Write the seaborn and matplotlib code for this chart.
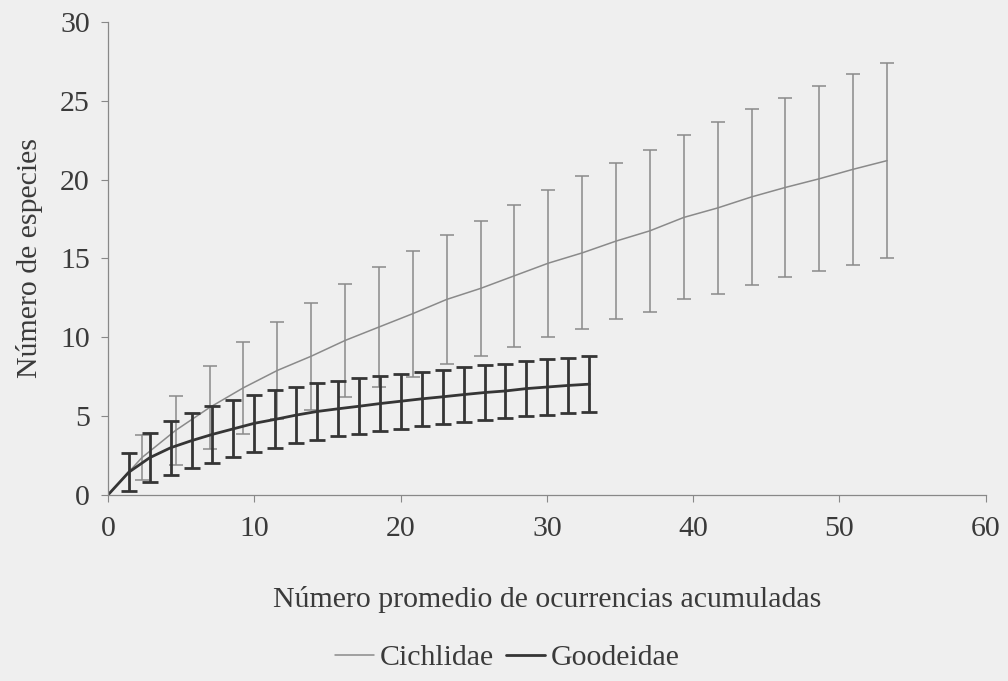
import numpy as np
import pandas as pd
import matplotlib
matplotlib.use("Agg")
import matplotlib.pyplot as plt
import seaborn as sns

# Rarefaction curves: mean accumulated occurrences vs. species, with SD bars
cich_x = [0, 2.32, 4.63, 6.95, 9.26, 11.58, 13.89, 16.21, 18.52, 20.84, 23.15, 25.47, 27.78,
          30.10, 32.41, 34.73, 37.04, 39.36, 41.67, 43.99, 46.30, 48.62, 50.93, 53.25]
cich_y = [0, 2.37, 4.1, 5.55, 6.8, 7.9, 8.8, 9.8, 10.65, 11.5, 12.4, 13.1, 13.9,
          14.7, 15.35, 16.1, 16.75, 17.6, 18.2, 18.9, 19.5, 20.05, 20.65, 21.2]
cich_sd = [0, 1.43, 2.17, 2.65, 2.9, 3.1, 3.4, 3.6, 3.8, 4.0, 4.1, 4.3, 4.5,
           4.65, 4.85, 4.95, 5.15, 5.2, 5.45, 5.6, 5.7, 5.85, 6.05, 6.2]

good_x = [0, 1.43, 2.86, 4.29, 5.72, 7.15, 8.58, 10.01, 11.44, 12.87, 14.30, 15.73, 17.16,
          18.59, 20.02, 21.45, 22.88, 24.31, 25.74, 27.17, 28.60, 30.03, 31.46, 32.89]
good_y = [0, 1.45, 2.37, 3.0, 3.45, 3.85, 4.2, 4.55, 4.8, 5.07, 5.3, 5.47, 5.63,
          5.8, 5.95, 6.1, 6.23, 6.37, 6.5, 6.6, 6.75, 6.85, 6.95, 7.03]
good_sd = [0, 1.2, 1.55, 1.7, 1.75, 1.8, 1.8, 1.8, 1.83, 1.78, 1.8, 1.75, 1.78,
           1.75, 1.73, 1.7, 1.73, 1.73, 1.72, 1.73, 1.75, 1.75, 1.77, 1.78]

x_ticks = [0, 10, 20, 30, 40, 50, 60]
y_ticks = [0, 5, 10, 15, 20, 25, 30]
families = ["Cichlidae", "Goodeidae"]

df = pd.concat([
    pd.DataFrame({"x": cich_x, "y": cich_y, "sd": cich_sd, "fam": families[0]}),
    pd.DataFrame({"x": good_x, "y": good_y, "sd": good_sd, "fam": families[1]}),
], ignore_index=True)

sns.set_theme(style="white")
plt.rcParams["font.family"] = ["Liberation Serif", "DejaVu Serif"]

bg = "#efefef"
txt = "#3a3a3a"
fs = 21.5
fig = plt.figure(figsize=(10.08, 6.81), dpi=100, facecolor=bg)
ax = fig.add_axes([0.107, 0.273, 0.871, 0.695], facecolor=bg)

colors = {"Cichlidae": "#8a8a8a", "Goodeidae": "#353535"}
widths = {"Cichlidae": 1.1, "Goodeidae": 2.0}
caps = {"Cichlidae": 4.7, "Goodeidae": 5.5}

for fam in families:
    sub = df[df["fam"] == fam]
    sns.lineplot(data=sub, x="x", y="y", ax=ax, color=colors[fam],
                 linewidth=widths[fam], label=fam, sort=False, estimator=None)
    pts = sub.iloc[1:]
    ax.errorbar(pts["x"], pts["y"], yerr=pts["sd"], fmt="none",
                ecolor=colors[fam], elinewidth=widths[fam],
                capsize=caps[fam], capthick=widths[fam])

ax.set_xlim(0, 60)
ax.set_ylim(0, 30)
ax.set_xticks(x_ticks)
ax.set_yticks(y_ticks)
ax.tick_params(axis="both", which="major", labelsize=fs, colors="#888888",
               labelcolor=txt, length=5, width=0.8, direction="out",
               left=True, bottom=True)
ax.tick_params(axis="x", pad=10)
ax.tick_params(axis="y", pad=8)

for side in ["top", "right"]:
    ax.spines[side].set_visible(False)
for side in ["left", "bottom"]:
    ax.spines[side].set_color("#888888")
    ax.spines[side].set_linewidth(0.9)

ax.set_xlabel("Número promedio de ocurrencias acumuladas", fontsize=fs,
              color=txt, labelpad=32)
ax.set_ylabel("Número de especies", fontsize=fs, color=txt, labelpad=12)

ax.legend(loc="upper center", bbox_to_anchor=(0.455, -0.258), ncol=2, frameon=False,
          fontsize=fs, handlelength=1.3, handletextpad=0.2, columnspacing=0.4,
          labelcolor=txt)

fig.savefig("out.png", dpi=100, facecolor=bg)
